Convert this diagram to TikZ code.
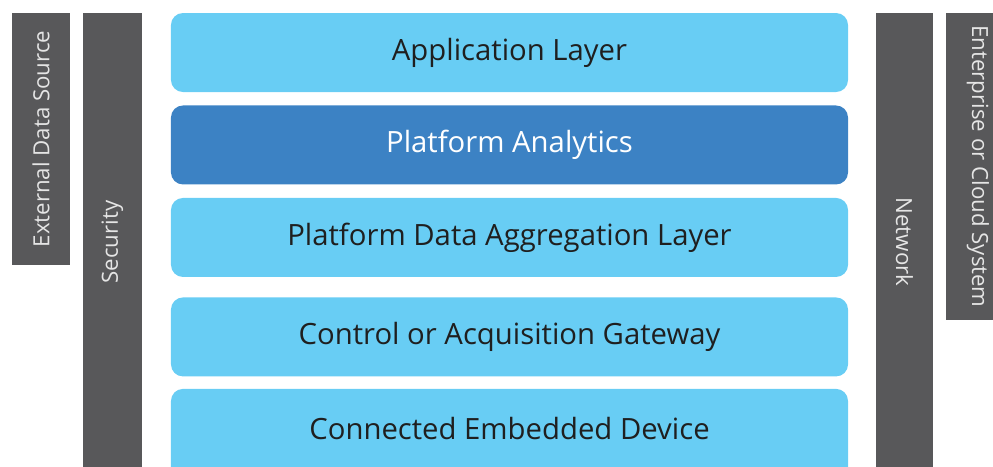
\documentclass[tikz,border=0pt]{standalone}
\usepackage{fontspec}
\setmainfont{Open Sans}
\usetikzlibrary{positioning}
\definecolor{layerblue}{RGB}{104,205,244}
\definecolor{darkblue}{RGB}{60,130,196}
\definecolor{bargrey}{RGB}{88,88,90}
\tikzset{layer/.style = {rectangle, rounded corners=0.36cm, minimum width=20.31cm, minimum height=2.37cm, fill=layerblue, text=black!88, font=\fontsize{25}{30}\selectfont, inner sep=0pt}}
\tikzset{analytics/.style = {layer, fill=darkblue, text=white}}
\tikzset{sidebar/.style = {rectangle, fill=bargrey, text=white!90!black, font=\fontsize{19}{22}\selectfont, inner sep=0pt}}

\begin{document}
\begin{tikzpicture}[x=0.03cm, y=-0.03cm]
\useasboundingbox (0,0) rectangle (993,466);
\clip (0,0) rectangle (993,466);
% layer stack
\node [layer] (app) at (509.5,52.5) {Application Layer};
\node [analytics, below=0.39cm of app] (analytics) {Platform Analytics};
\node [layer, below=0.39cm of analytics] (aggr) {Platform Data Aggregation Layer};
\node [layer, below=0.6cm of aggr] (gateway) {Control or Acquisition Gateway};
\node [layer, below=0.36cm of gateway, minimum height=2.9cm, text depth=0.55cm] (device) {Connected Embedded Device};

% side bars
\node [sidebar, rotate=90, minimum width=7.56cm, minimum height=1.74cm] (extsrc) at (41,139) {External Data Source};
\node [sidebar, rotate=90, minimum width=13.74cm, minimum height=1.77cm] (security) at (112.5,242) {Security};
\node [sidebar, rotate=-90, minimum width=13.74cm, minimum height=1.71cm] (network) at (904.5,242) {Network};
\node [sidebar, rotate=-90, minimum width=9.21cm, minimum height=1.92cm] (cloud) at (978,166.5) {Enterprise or Cloud System};
\end{tikzpicture}
\end{document}
